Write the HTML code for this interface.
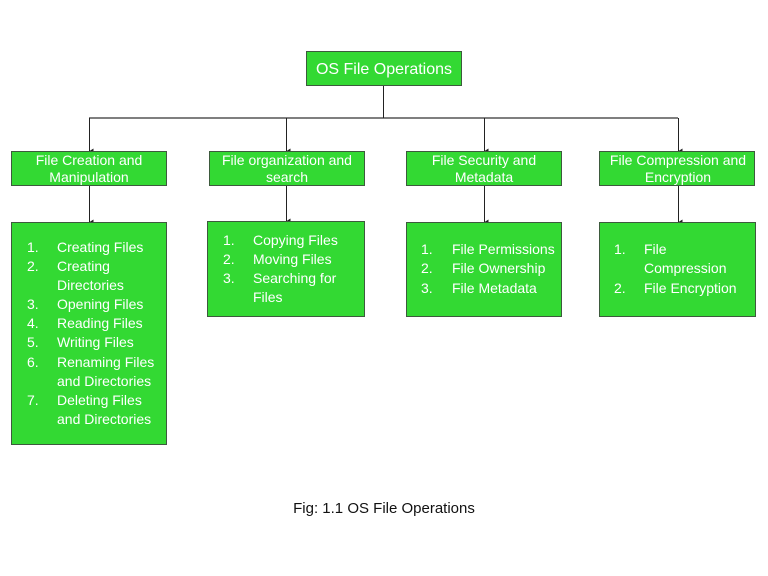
<!DOCTYPE html>
<html><head><meta charset="utf-8"><style>
html,body{margin:0;padding:0;background:#fff;}
svg{display:block;}
text{font-family:"Liberation Sans",Arial,sans-serif;}
.w{fill:#fff;font-size:14px;}
.c{text-anchor:middle;}
</style></head><body>
<svg width="768" height="576" viewBox="0 0 768 576" xmlns="http://www.w3.org/2000/svg">
<defs><marker id="a" markerWidth="6" markerHeight="6" refX="3" refY="5" orient="auto" markerUnits="userSpaceOnUse"><path d="M0.5,1 L3,5 L5.5,1 Z" fill="#222"/></marker></defs>
<g stroke="#555" stroke-width="1.5" fill="none">
<line x1="89" y1="118" x2="678" y2="118"/>
</g>
<g stroke="#222" stroke-width="1" fill="none">
<line x1="383.5" y1="86" x2="383.5" y2="118"/>
<line x1="89.5" y1="118" x2="89.5" y2="151" marker-end="url(#a)"/>
<line x1="286.5" y1="118" x2="286.5" y2="151" marker-end="url(#a)"/>
<line x1="484.5" y1="118" x2="484.5" y2="151" marker-end="url(#a)"/>
<line x1="678.5" y1="118" x2="678.5" y2="151" marker-end="url(#a)"/>
<line x1="89.5" y1="186" x2="89.5" y2="222" marker-end="url(#a)"/>
<line x1="286.5" y1="186" x2="286.5" y2="221" marker-end="url(#a)"/>
<line x1="484.5" y1="186" x2="484.5" y2="222" marker-end="url(#a)"/>
<line x1="678.5" y1="186" x2="678.5" y2="222" marker-end="url(#a)"/>
</g>
<g fill="#33d933" stroke="#3d5a3d" stroke-width="1">
<rect x="306.5" y="51.5" width="155" height="34"/>
<rect x="11.5" y="151.5" width="155" height="34"/>
<rect x="209.5" y="151.5" width="155" height="34"/>
<rect x="406.5" y="151.5" width="155" height="34"/>
<rect x="599.5" y="151.5" width="155" height="34"/>
<rect x="11.5" y="222.5" width="155" height="222"/>
<rect x="207.5" y="221.5" width="157" height="95"/>
<rect x="406.5" y="222.5" width="155" height="94"/>
<rect x="599.5" y="222.5" width="156" height="94"/>
</g>
<text class="w c" x="384" y="74" style="font-size:16px">OS File Operations</text>
<text class="w c" x="89" y="165">File Creation and</text>
<text class="w c" x="89" y="182">Manipulation</text>
<text class="w c" x="287" y="165">File organization and</text>
<text class="w c" x="287" y="182">search</text>
<text class="w c" x="484" y="165">File Security and</text>
<text class="w c" x="484" y="182">Metadata</text>
<text class="w c" x="678" y="165">File Compression and</text>
<text class="w c" x="678" y="182">Encryption</text>

<g class="w">
<text x="27" y="252">1.</text><text x="57" y="252">Creating Files</text>
<text x="27" y="271">2.</text><text x="57" y="271">Creating</text>
<text x="57" y="290">Directories</text>
<text x="27" y="309">3.</text><text x="57" y="309">Opening Files</text>
<text x="27" y="328">4.</text><text x="57" y="328">Reading Files</text>
<text x="27" y="347">5.</text><text x="57" y="347">Writing Files</text>
<text x="27" y="367">6.</text><text x="57" y="367">Renaming Files</text>
<text x="57" y="386">and Directories</text>
<text x="27" y="405">7.</text><text x="57" y="405">Deleting Files</text>
<text x="57" y="424">and Directories</text>

<text x="223" y="245">1.</text><text x="253" y="245">Copying Files</text>
<text x="223" y="264">2.</text><text x="253" y="264">Moving Files</text>
<text x="223" y="283">3.</text><text x="253" y="283">Searching for</text>
<text x="253" y="302">Files</text>

<text x="421" y="254">1.</text><text x="452" y="254">File Permissions</text>
<text x="421" y="273">2.</text><text x="452" y="273">File Ownership</text>
<text x="421" y="293">3.</text><text x="452" y="293">File Metadata</text>

<text x="614" y="254">1.</text><text x="644" y="254">File</text>
<text x="644" y="273">Compression</text>
<text x="614" y="293">2.</text><text x="644" y="293">File Encryption</text>
</g>
<text class="c" x="384" y="513" style="font-size:15px;fill:#111">Fig: 1.1 OS File Operations</text>
</svg>
</body></html>
